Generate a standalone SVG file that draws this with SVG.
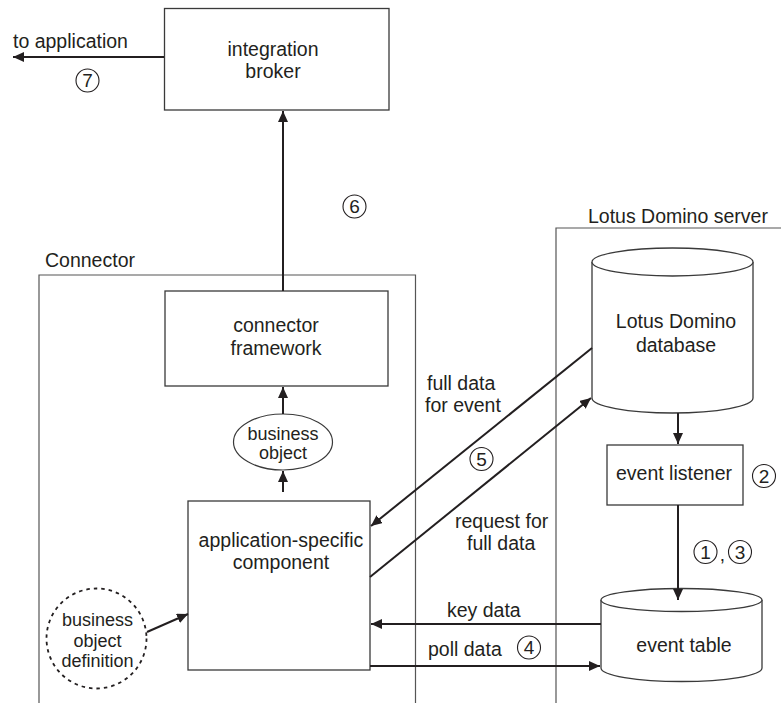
<svg xmlns="http://www.w3.org/2000/svg" width="781" height="703" viewBox="0 0 781 703">
<style>
text{font-family:"Liberation Sans",Arial,sans-serif;fill:#231f20;font-size:19.5px}
.c{text-anchor:middle}
.s{font-size:18px}
.n{font-size:19px;text-anchor:middle}
.box{fill:#fff;stroke:#3a3a3a;stroke-width:1.3}
.frame{fill:none;stroke:#555;stroke-width:1.2}
.num{fill:none;stroke:#231f20;stroke-width:1.1}
.ar{fill:none;stroke:#231f20;stroke-width:2;marker-end:url(#ah)}
</style>
<defs>
<marker id="ah" markerUnits="userSpaceOnUse" markerWidth="12" markerHeight="10" refX="11" refY="5" orient="auto">
<path d="M0,0 L11,5 L0,10 z" fill="#231f20"/>
</marker>
</defs>
<g id="frames">
<g id="connector-frame">
<path class="frame" d="M39,703 V275 H415.5 V703"/>
<text x="45" y="267">Connector</text>
</g>
<g id="lotus-frame">
<path class="frame" d="M556,703 V228 H781"/>
<text x="588" y="223">Lotus Domino server</text>
</g>
</g>
<g id="integration-broker">
<rect class="box" x="164.5" y="8.5" width="224.5" height="101.5"/>
<text class="c" x="273" y="56">integration</text>
<text class="c" x="273" y="78">broker</text>
</g>
<g id="connector-framework">
<rect class="box" x="165" y="291" width="223" height="95"/>
<text class="c" x="276" y="332">connector</text>
<text class="c" x="276" y="355">framework</text>
</g>
<g id="business-object">
<ellipse cx="283" cy="442" rx="49.5" ry="28" fill="#fff" stroke="#3a3a3a" stroke-width="1.2"/>
<text class="c s" x="283" y="440">business</text>
<text class="c s" x="283" y="459">object</text>
</g>
<g id="application-specific-component">
<rect class="box" x="188" y="501" width="182" height="169"/>
<text class="c" x="281" y="547">application-specific</text>
<text class="c" x="281" y="569">component</text>
</g>
<g id="business-object-definition">
<circle cx="96.5" cy="638.5" r="50" fill="none" stroke="#231f20" stroke-width="1.8" stroke-dasharray="3.5 4"/>
<text class="c s" x="97.5" y="626">business</text>
<text class="c s" x="97.5" y="647">object</text>
<text class="c s" x="97.5" y="667">definition</text>
</g>
<g id="lotus-domino-database">
<path class="box" d="M592,262 V398 A80.5,15 0 0 0 753,398 V262"/>
<ellipse class="box" cx="672.5" cy="262" rx="80.5" ry="14"/>
<text class="c" x="676" y="328">Lotus Domino</text>
<text class="c" x="676" y="352">database</text>
</g>
<g id="event-listener">
<rect class="box" x="607" y="445" width="136" height="60"/>
<text class="c" x="674" y="480">event listener</text>
</g>
<g id="event-table">
<path class="box" d="M601,600 V668 A80.5,13.5 0 0 0 762,668 V600"/>
<ellipse class="box" cx="681.5" cy="600" rx="80.5" ry="11.5"/>
<text class="c" x="684" y="652">event table</text>
</g>
<g id="connectors">
<line class="ar" x1="164" y1="57" x2="13" y2="57"/>
<line class="ar" x1="283" y1="291" x2="283" y2="111"/>
<line class="ar" x1="283" y1="414" x2="283" y2="387"/>
<line class="ar" x1="283" y1="492" x2="283" y2="471"/>
<line class="ar" x1="147" y1="632" x2="188" y2="614"/>
<line class="ar" x1="592" y1="348" x2="371" y2="526"/>
<line class="ar" x1="370" y1="577" x2="591" y2="398"/>
<line class="ar" x1="678" y1="413" x2="678" y2="444"/>
<line class="ar" x1="678" y1="505" x2="678" y2="600"/>
<line class="ar" x1="601" y1="624" x2="371" y2="624"/>
<line class="ar" x1="370" y1="666" x2="600" y2="666"/>
<text x="13" y="48">to application</text>
<text x="427" y="390">full data</text>
<text x="425" y="412">for event</text>
<text x="455" y="528">request for</text>
<text x="467" y="550">full data</text>
<text x="447" y="617">key data</text>
<text x="428" y="656">poll data</text>
</g>
<g id="step-numbers">
<circle class="num" cx="87.5" cy="80.5" r="11.5"/><text class="n" x="87.5" y="87">7</text>
<circle class="num" cx="354.5" cy="206.5" r="11.5"/><text class="n" x="354.5" y="213">6</text>
<circle class="num" cx="481.5" cy="459" r="11.5"/><text class="n" x="481.5" y="465.5">5</text>
<circle class="num" cx="764" cy="476" r="11.5"/><text class="n" x="764" y="482.5">2</text>
<circle class="num" cx="705.5" cy="552" r="11.5"/><text class="n" x="705.5" y="558.5">1</text>
<text class="n" x="722.5" y="561">,</text>
<circle class="num" cx="740" cy="552" r="11.5"/><text class="n" x="740" y="558.5">3</text>
<circle class="num" cx="529" cy="647.5" r="11.5"/><text class="n" x="529" y="654">4</text>
</g>
</svg>
